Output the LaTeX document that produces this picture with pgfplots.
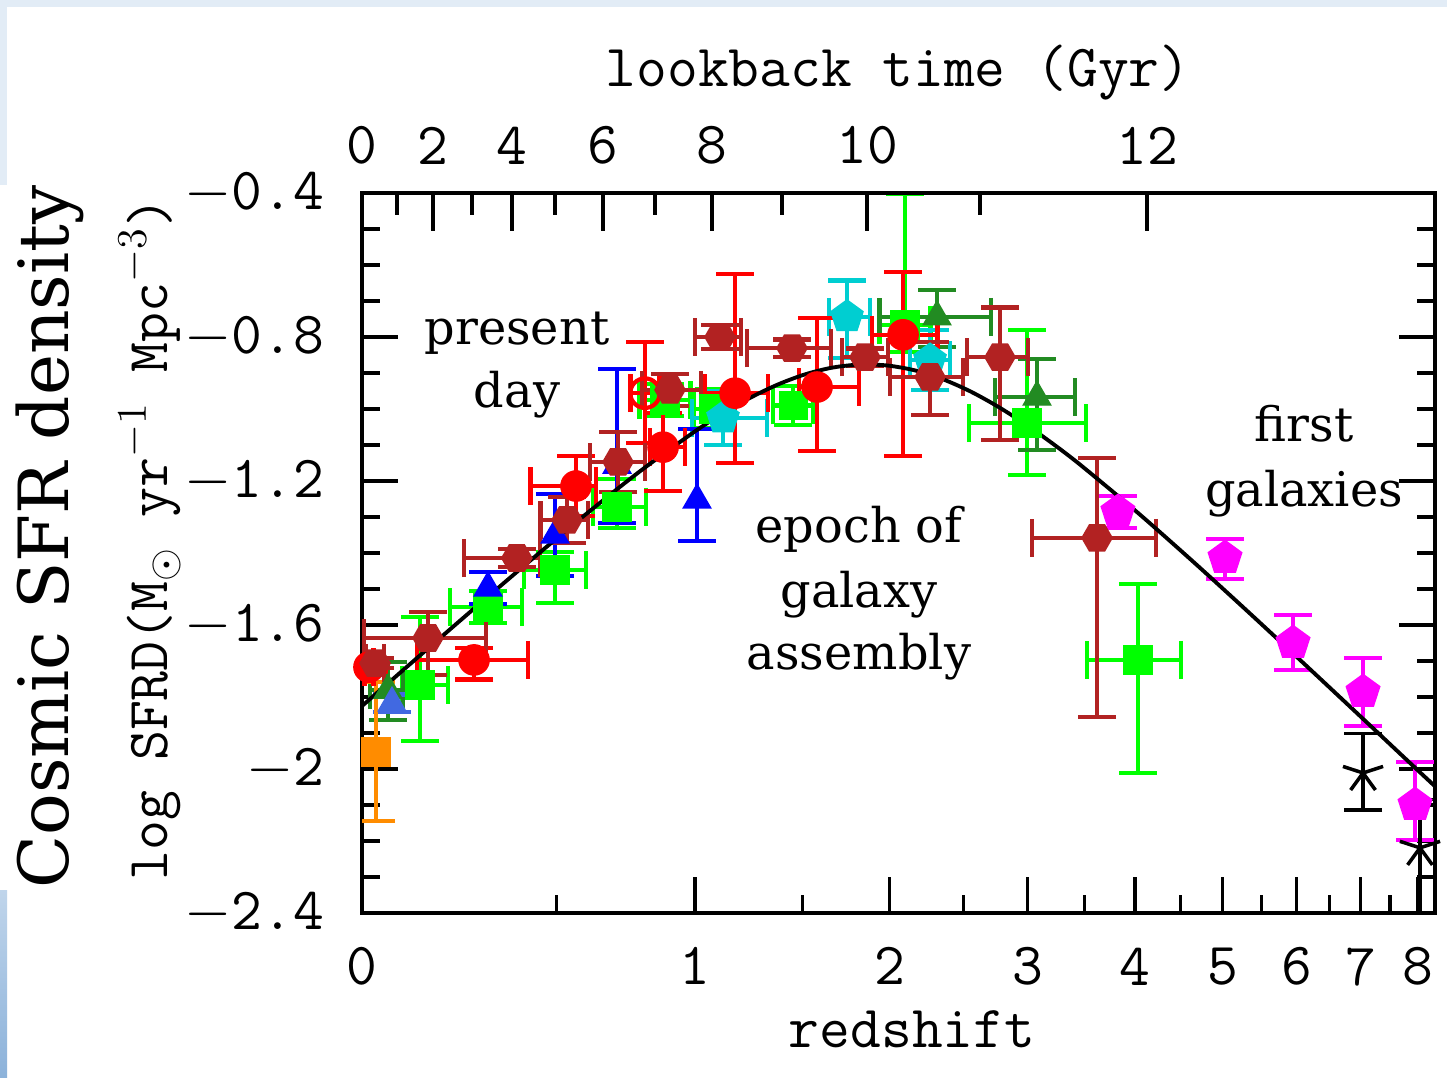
\documentclass[border=0pt]{standalone}
\usepackage{fontspec}
\usepackage{pgfplots}
\pgfplotsset{compat=1.18}
\usetikzlibrary{plotmarks,arrows.meta}
\newfontfamily\csfont{DejaVu Serif}
\definecolor{cBrick}{RGB}{178,34,34}
\definecolor{cLime}{RGB}{0,255,0}
\definecolor{cFgreen}{RGB}{34,139,34}
\definecolor{cBlue}{RGB}{0,0,255}
\definecolor{cRblue}{RGB}{65,105,225}
\definecolor{cTurq}{RGB}{0,206,209}
\definecolor{cMag}{RGB}{255,0,255}
\definecolor{cOrange}{RGB}{255,140,0}
\definecolor{cRed}{RGB}{255,0,0}
\definecolor{slideA}{RGB}{226,236,246}
\definecolor{slideB}{RGB}{140,178,218}
\newcommand\axfont{\ttfamily\fontsize{17}{20}\selectfont}
\newcommand\annfont{\csfont\fontsize{13.6}{16}\selectfont}
\pgfdeclareplotmark{hexagon*}{%
  \pgfpathmoveto{\pgfpointpolar{0}{\pgfplotmarksize}}%
  \pgfpathlineto{\pgfpointpolar{60}{\pgfplotmarksize}}%
  \pgfpathlineto{\pgfpointpolar{120}{\pgfplotmarksize}}%
  \pgfpathlineto{\pgfpointpolar{180}{\pgfplotmarksize}}%
  \pgfpathlineto{\pgfpointpolar{240}{\pgfplotmarksize}}%
  \pgfpathlineto{\pgfpointpolar{300}{\pgfplotmarksize}}%
  \pgfpathclose\pgfusepathqfillstroke}
\pgfplotsset{
  pt/.style 2 args={only marks, mark=#2, color=#1,
    mark options={solid, fill=#1, draw=#1, line width=0.4pt},
    error bars/.cd, x dir=both, x explicit, y dir=both, y explicit,
    error mark=none,
    error bar style={line width=1.2pt, color=#1, solid, -{Bar[width=10.8pt]}}},
  ptY/.style 2 args={only marks, mark=#2, color=#1,
    mark options={solid, fill=#1, draw=#1, line width=0.4pt},
    error bars/.cd, x dir=none, y dir=both, y explicit,
    error mark=none,
    error bar style={line width=1.2pt, color=#1, solid, -{Bar[width=10.8pt]}}},
}
\begin{document}
\begin{tikzpicture}
\path[use as bounding box] (0,0) rectangle (14.47,10.77);
\fill[slideA] (0,0) rectangle (14.47,10.77);
\fill[white] (0.07,0) rectangle (14.47,10.70);
\fill[white] (0,1.87) rectangle (1.85,8.92);
\shade[top color=slideA!60!slideB, bottom color=slideB] (0,0) rectangle (0.07,1.87);

\begin{axis}[
  at={(3.62cm,1.64cm)}, anchor=south west,
  scale only axis, width=10.73cm, height=7.20cm,
  xmin=0, xmax=0.9702, ymin=-2.4, ymax=-0.4,
  axis line style={line width=1.1pt},
  every tick/.style={black, line width=0.9pt},
  major tick length=3.6mm, minor tick length=1.8mm,
  tick align=inside,
  xtick pos=left,
  xtick={0,0.30103,0.47712,0.60206,0.69897,0.77815,0.84510,0.90309,0.95424},
  xticklabels={0,1,2,3,4,5,6,7,8},
  minor xtick={0.17609,0.39794,0.54407,0.65321,0.74036,0.81291,0.87506,0.92942},
  ytick={-2.4,-2,-1.6,-1.2,-0.8,-0.4},
  yticklabels={$-$2.4,$-$2,$-$1.6,$-$1.2,$-$0.8,$-$0.4},
  minor ytick={-2.3,-2.2,-2.1,-1.9,-1.8,-1.7,-1.5,-1.4,-1.3,-1.1,-1.0,-0.9,-0.7,-0.6,-0.5},
  ytick pos=both,
  ticklabel style={font=\axfont},
  xticklabel style={inner sep=0pt, anchor=north, yshift=-3.4mm},
  yticklabel style={inner sep=0pt, anchor=east, xshift=-3.7mm},
]
% lime green squares
\addplot[mark size=4pt, pt={cLime}{square*}] coordinates {
 (0.0524,-1.767) += (0.027,0.194) -= (0.018,0.161)
 (0.1139,-1.550) += (0.033,0.05) -= (0.036,0.05)
 (0.1745,-1.447) += (0.03,0.056) -= (0.03,0.097)
 (0.2306,-1.272) += (0.028,0.083) -= (0.024,0.064)
 (0.274,-0.975) += (0.025,0.05) -= (0.025,0.05)
 (0.318,-1.000) += (0.02,0.06) -= (0.02,0.06)
 (0.390,-0.990) += (0.02,0.06) -= (0.02,0.06)
 (0.491,-0.767) += (0.025,0.37) -= (0.025,0.08)
 (0.6013,-1.039) += (0.0552,0.264) -= (0.0545,0.15)
 (0.7016,-1.697) += (0.0407,0.217) -= (0.0479,0.319)
};
% forest green triangles
\addplot[mark size=4.5pt, pt={cFgreen}{triangle*}] coordinates {
 (0.0235,-1.781) += (0.0154,0.083) -= (0.0181,0.089)
 (0.5199,-0.744) += (0.051,0.081) -= (0.054,0.09)
 (0.6103,-0.967) += (0.036,0.111) -= (0.0398,0.153)
};
% turquoise pentagons
\addplot[mark size=4.8pt, pt={cTurq}{pentagon*}] coordinates {
 (0.3264,-1.025) += (0.042,0.08) -= (0.03,0.08)
 (0.4385,-0.744) += (0.023,0.107) -= (0.018,0.12)
 (0.5136,-0.864) += (0.02,0.09) -= (0.02,0.09)
};
% blue triangles
\addplot[mark size=4.5pt, ptY={cBlue}{triangle*}] coordinates {
 (0.1139,-1.497) += (0,0.05) -= (0,0.05)
 (0.1745,-1.350) += (0,0.12) -= (0,0.12)
 (0.2306,-1.156) += (0,0.272) -= (0,0.167)
 (0.3029,-1.253) += (0,0.203) -= (0,0.119)
};
% royal blue triangle
\addplot[mark size=4.5pt, ptY={cRblue}{triangle*}] coordinates {
 (0.0271,-1.817) += (0,0.03) -= (0,0.03)
};
% orange square
\addplot[mark size=4pt, ptY={cOrange}{square*}] coordinates {
 (0.0127,-1.953) += (0,0.200) -= (0,0.197)
};
% red open circle
\addplot[mark size=4.2pt, only marks, mark=o, color=cRed, mark options={line width=1.2pt},
  error bars/.cd, y dir=both, y explicit, x dir=both, x explicit, error mark=none,
  error bar style={line width=1.2pt, color=cRed, -{Bar[width=10.8pt]}}] coordinates {
 (0.2559,-0.956) += (0.015,0.147) -= (0.015,0.144)
};
% red circles
\addplot[mark size=4.3pt, pt={cRed}{*}] coordinates {
 (0.0063,-1.717) += (0.006,0.02) -= (0.006,0.02)
 (0.1013,-1.697) += (0.0506,0.04) -= (0.0533,0.06)
 (0.1935,-1.214) += (0.02,0.09) -= (0.043,0.09)
 (0.2722,-1.106) += (0.022,0.10) -= (0.014,0.128)
 (0.3373,-0.956) += (0.032,0.336) -= (0.029,0.20)
 (0.4114,-0.939) += (0.04,0.197) -= (0.018,0.183)
 (0.4892,-0.794) += (0.033,0.18) -= (0.03,0.342)
};
% brick hexagons
\addplot[mark size=4.3pt, pt={cBrick}{hexagon*}] coordinates {
 (0.0118,-1.706) += (0.01,0.02) -= (0.01,0.02)
 (0.0597,-1.636) += (0.054,0.078) -= (0.0597,0.108)
 (0.1400,-1.414) += (0.0226,0.03) -= (0.0497,0.03)
 (0.1854,-1.308) += (0.021,0.07) -= (0.026,0.07)
 (0.2315,-1.147) += (0.026,0.09) -= (0.027,0.09)
 (0.2785,-0.947) += (0.03,0.05) -= (0.027,0.05)
 (0.3237,-0.800) += (0.0208,0.04) -= (0.0244,0.04)
 (0.3888,-0.831) += (0.0371,0.03) -= (0.0425,0.03)
 (0.4548,-0.856) += (0.0226,0.03) -= (0.0226,0.03)
 (0.5136,-0.911) += (0.032,0.103) -= (0.038,0.111)
 (0.5769,-0.856) += (0.0271,0.144) -= (0.0316,0.236)
 (0.6646,-1.358) += (0.0552,0.228) -= (0.0606,0.503)
};
% magenta pentagons
\addplot[mark size=5pt, ptY={cMag}{pentagon*}] coordinates {
 (0.6835,-1.286) += (0,0.05) -= (0,0.05)
 (0.7803,-1.414) += (0,0.058) -= (0,0.064)
 (0.8418,-1.650) += (0,0.083) -= (0,0.08)
 (0.9051,-1.786) += (0,0.10) -= (0,0.10)
 (0.9521,-2.100) += (0,0.125) -= (0,0.103)
};
% black stars
\addplot[mark size=6pt, only marks, mark=star, black, mark options={line width=1pt},
  error bars/.cd, y dir=both, y explicit, error mark=none,
  error bar style={line width=1pt, black, -{Bar[width=10.8pt]}}] coordinates {
 (0.9051,-2.011) += (0,0.114) -= (0,0.108)
 (0.9566,-2.219) += (0,0.139) -= (0,0.2)
};
% fit curve
\addplot[black, line width=1.1pt, smooth, mark=none] coordinates {
 (0,-1.8250) (0.05,-1.6910) (0.1,-1.5579) (0.15,-1.4266) (0.2,-1.2984)
 (0.25,-1.1761) (0.3,-1.0644) (0.325,-1.0146) (0.35,-0.9705) (0.375,-0.9333)
 (0.4,-0.9044) (0.425,-0.8852) (0.45,-0.8766) (0.475,-0.8792) (0.5,-0.8928)
 (0.525,-0.9171) (0.55,-0.9510) (0.575,-0.9934) (0.6,-1.0425) (0.625,-1.0973)
 (0.65,-1.1564) (0.7,-1.2844) (0.75,-1.4200) (0.8,-1.5600) (0.85,-1.7024)
 (0.9,-1.8460) (0.95,-1.9903) (0.9702,-2.0482)
};
\end{axis}

\begin{axis}[
  at={(3.62cm,1.64cm)}, anchor=south west,
  scale only axis, width=10.73cm, height=7.20cm,
  xmin=0, xmax=0.9702, ymin=-2.4, ymax=-0.4,
  axis x line*=top, axis y line=none,
  axis line style={line width=1.1pt},
  every tick/.style={black, line width=0.9pt},
  major tick length=3.8mm, minor tick length=2.2mm,
  tick align=inside,
  xtick={0,0.0642,0.1356,0.2179,0.3165,0.4566,0.7098},
  xticklabels={0,2,4,6,8,10,12},
  minor xtick={0.0316,0.0995,0.1745,0.2649,0.3797,0.5588},
  xticklabel style={font=\axfont, inner sep=0pt, anchor=south, yshift=2.8mm},
]
\end{axis}

\node[rotate=90, font=\csfont\fontsize{19.7}{24}\selectfont] at (0.50,5.40) {Cosmic SFR density};
\node[rotate=90, font=\ttfamily\fontsize{16.5}{19}\selectfont] at (1.50,5.38) {log SFRD(M$_\odot$ yr$^{-1}$ Mpc$^{-3}$)};
\node[anchor=base, font=\axfont] at (9.12,0.30) {redshift};
\node[anchor=base, font=\axfont] at (8.98,9.90) {lookback time (Gyr)};
\node[anchor=base, font=\annfont] at (5.17,7.32) {present};
\node[anchor=base, font=\annfont] at (5.17,6.69) {day};
\node[anchor=base, font=\annfont] at (8.59,5.34) {epoch of};
\node[anchor=base, font=\annfont] at (8.59,4.69) {galaxy};
\node[anchor=base, font=\annfont] at (8.59,4.07) {assembly};
\node[anchor=base, font=\annfont] at (13.04,6.35) {first};
\node[anchor=base, font=\annfont] at (13.04,5.70) {galaxies};
\end{tikzpicture}
\end{document}
